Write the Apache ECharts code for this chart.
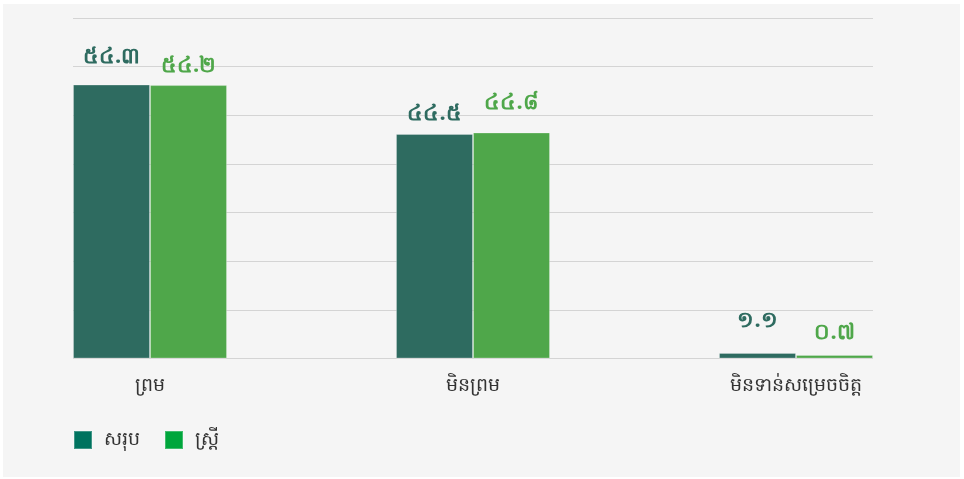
<!DOCTYPE html>
<html>
<head>
<meta charset="utf-8">
<script src="https://cdn.jsdelivr.net/npm/echarts@6/dist/echarts.min.js"></script>
<style>
html,body{margin:0;padding:0;background:#ffffff;}
#panel{position:absolute;left:3px;top:4px;width:957px;height:473px;background:#f5f5f5;}
#chart{position:absolute;left:0;top:0;width:964px;height:479px;}
</style>
</head>
<body>
<div id="panel"></div>
<div id="chart"></div>
<script>
const categories = ['ព្រម', 'មិនព្រម', 'មិនទាន់សម្រេចចិត្ត'];
const seriesNames = ['សរុប', 'ស្ត្រី'];
const totalValues = [54.3, 44.5, 1.1];
const womenValues = [54.2, 44.8, 0.7];
const khmerDigits = ['០','១','២','៣','៤','៥','៦','៧','៨','៩'];

function toKhmer(v) {
  return String(v).replace(/[0-9]/g, d => khmerDigits[+d]);
}

const darkColor = '#2e6b60';
const greenColor = '#4fa74a';
const yMax = 67.5;
const fontFam = '"Noto Sans", "DejaVu Sans", sans-serif';

// label vertical offsets (style only)
const totalLabelShift = [-8, 0, -12];
const womenLabelShift = [1, -10, -2];

function buildData(vals, shifts) {
  return vals.map((v, i) => ({ value: v, label: { offset: [0, shifts[i]] } }));
}

const chart = echarts.init(document.getElementById('chart'), null, { renderer: 'canvas' });
chart.setOption({
  animation: false,
  backgroundColor: 'transparent',
  grid: [
    { left: 73, width: 800, top: 18, height: 340.5 },
    { left: 150, width: 646, top: 18, height: 340.5 }
  ],
  xAxis: [
    { gridIndex: 0, type: 'category', data: categories, show: false },
    {
      gridIndex: 1, type: 'category', data: categories, boundaryGap: false,
      axisLine: { show: false }, axisTick: { show: false },
      axisLabel: { color: '#333333', fontSize: 19, fontFamily: fontFam, margin: 18 }
    }
  ],
  yAxis: [
    {
      gridIndex: 0, type: 'value', min: 0, max: yMax, interval: yMax / 7,
      axisLabel: { show: false }, axisLine: { show: false }, axisTick: { show: false },
      splitLine: { lineStyle: { color: '#d4d4d4', width: 1 } }
    },
    {
      gridIndex: 1, type: 'value', min: 0, max: yMax, interval: yMax / 7,
      show: false, splitLine: { show: false }
    }
  ],
  legend: {
    left: 73, top: 430, padding: 0, itemWidth: 18, itemHeight: 18, itemGap: 24,
    textStyle: { fontSize: 19, color: '#333333', fontFamily: fontFam, padding: [0, 0, 0, 7] },
    data: [
      { name: seriesNames[0], icon: 'rect', itemStyle: { color: '#00735f' } },
      { name: seriesNames[1], icon: 'rect', itemStyle: { color: '#00a63c' } }
    ]
  },
  series: [
    {
      name: seriesNames[0], type: 'bar', xAxisIndex: 1, yAxisIndex: 1,
      barWidth: 77, barGap: '0%',
      itemStyle: { color: darkColor, borderColor: 'rgba(255,255,255,0.25)', borderWidth: 1 },
      label: {
        show: true, position: 'top', distance: 9, color: darkColor,
        fontSize: 22, fontWeight: 'bold', fontFamily: fontFam,
        formatter: p => toKhmer(p.value)
      },
      data: buildData(totalValues, totalLabelShift)
    },
    {
      name: seriesNames[1], type: 'bar', xAxisIndex: 1, yAxisIndex: 1,
      barWidth: 77, barGap: '0%',
      itemStyle: { color: greenColor, borderColor: 'rgba(255,255,255,0.25)', borderWidth: 1 },
      label: {
        show: true, position: 'top', distance: 9, color: greenColor,
        fontSize: 22, fontWeight: 'bold', fontFamily: fontFam,
        formatter: p => toKhmer(p.value)
      },
      data: buildData(womenValues, womenLabelShift)
    }
  ]
});
</script>
</body>
</html>
